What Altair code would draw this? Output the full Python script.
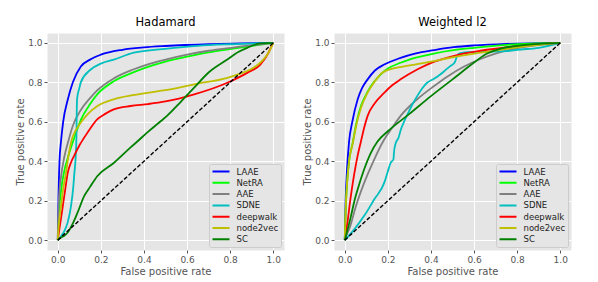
import altair as alt
import pandas as pd

methods = ["LAAE", "NetRA", "AAE", "SDNE", "deepwalk", "node2vec", "SC"]
colors = ["#0000FF", "#00FF00", "#808080", "#00BFBF", "#FF0000", "#BFBF00", "#008000"]
panels = ["Hadamard", "Weighted l2"]
ticks = [0.0, 0.2, 0.4, 0.6, 0.8, 1.0]

# ---- Hadamard ----
h_laae_x = [0, 0.003, 0.008, 0.015, 0.025, 0.046, 0.07, 0.107, 0.15, 0.2, 0.3, 0.4, 0.5, 0.7, 0.85, 1]
h_laae_y = [0, 0.2, 0.4, 0.5, 0.6, 0.71, 0.8, 0.88, 0.915, 0.94, 0.965, 0.977, 0.984, 0.993, 0.997, 1]
h_netra_x = [0, 0.005, 0.015, 0.03, 0.05, 0.077, 0.107, 0.15, 0.184, 0.26, 0.35, 0.415, 0.5, 0.6, 0.7, 0.82, 0.9, 1]
h_netra_y = [0, 0.13, 0.25, 0.35, 0.43, 0.52, 0.61, 0.69, 0.74, 0.805, 0.85, 0.877, 0.905, 0.93, 0.952, 0.972, 0.985, 1]
h_aae_x = [0, 0.005, 0.015, 0.03, 0.046, 0.07, 0.107, 0.15, 0.184, 0.26, 0.35, 0.415, 0.5, 0.6, 0.7, 0.82, 0.9, 1]
h_aae_y = [0, 0.2, 0.32, 0.42, 0.49, 0.58, 0.66, 0.72, 0.76, 0.82, 0.865, 0.89, 0.915, 0.94, 0.96, 0.977, 0.988, 1]
h_sdne_x = [0, 0.015, 0.031, 0.046, 0.061, 0.072, 0.077, 0.084, 0.087, 0.088, 0.09, 0.1, 0.107, 0.153, 0.2, 0.26, 0.353, 0.5, 0.65, 0.8, 1]
h_sdne_y = [0, 0.02, 0.047, 0.09, 0.17, 0.27, 0.34, 0.44, 0.55, 0.65, 0.72, 0.77, 0.8, 0.865, 0.895, 0.915, 0.95, 0.97, 0.985, 0.993, 1]
h_deep_x = [0, 0.008, 0.015, 0.023, 0.035, 0.046, 0.06, 0.077, 0.1, 0.123, 0.15, 0.184, 0.22, 0.26, 0.338, 0.42, 0.5, 0.633, 0.787, 0.879, 0.94, 0.978, 0.995, 1]
h_deep_y = [0, 0.06, 0.11, 0.17, 0.26, 0.34, 0.39, 0.43, 0.48, 0.52, 0.565, 0.613, 0.64, 0.663, 0.68, 0.69, 0.703, 0.739, 0.798, 0.848, 0.89, 0.95, 0.99, 1]
h_n2v_x = [0, 0.005, 0.015, 0.025, 0.038, 0.05, 0.065, 0.085, 0.107, 0.14, 0.184, 0.26, 0.35, 0.415, 0.5, 0.633, 0.787, 0.85, 0.894, 0.93, 0.955, 0.975, 0.99, 1]
h_n2v_y = [0, 0.08, 0.17, 0.26, 0.34, 0.43, 0.51, 0.56, 0.596, 0.64, 0.68, 0.714, 0.735, 0.747, 0.76, 0.79, 0.823, 0.845, 0.865, 0.89, 0.916, 0.945, 0.975, 1]
h_sc_x = [0, 0.015, 0.03, 0.046, 0.07, 0.092, 0.123, 0.15, 0.184, 0.261, 0.338, 0.369, 0.42, 0.479, 0.507, 0.57, 0.633, 0.7, 0.787, 0.84, 0.879, 0.94, 1]
h_sc_y = [0, 0.013, 0.022, 0.039, 0.085, 0.14, 0.224, 0.27, 0.325, 0.392, 0.47, 0.5, 0.55, 0.604, 0.63, 0.7, 0.773, 0.85, 0.916, 0.955, 0.975, 0.997, 1]

# ---- Weighted l2 ----
w_laae_x = [0, 0.004, 0.01, 0.02, 0.035, 0.06, 0.08, 0.106, 0.14, 0.183, 0.259, 0.33, 0.413, 0.505, 0.6, 0.75, 1]
w_laae_y = [0, 0.2, 0.35, 0.5, 0.6, 0.714, 0.77, 0.815, 0.86, 0.89, 0.924, 0.947, 0.963, 0.978, 0.987, 0.995, 1]
w_netra_x = [0, 0.004, 0.01, 0.02, 0.037, 0.055, 0.075, 0.1, 0.121, 0.15, 0.183, 0.259, 0.33, 0.413, 0.505, 0.6, 0.75, 1]
w_netra_y = [0, 0.15, 0.28, 0.4, 0.495, 0.6, 0.68, 0.74, 0.78, 0.82, 0.857, 0.899, 0.925, 0.946, 0.963, 0.975, 0.99, 1]
w_aae_x = [0, 0.01, 0.022, 0.052, 0.09, 0.137, 0.183, 0.22, 0.259, 0.336, 0.413, 0.477, 0.554, 0.63, 0.707, 0.78, 0.86, 1]
w_aae_y = [0, 0.03, 0.06, 0.173, 0.29, 0.41, 0.51, 0.57, 0.63, 0.714, 0.78, 0.83, 0.88, 0.918, 0.948, 0.968, 0.983, 1]
w_sdne_x = [0, 0.045, 0.09, 0.137, 0.183, 0.198, 0.213, 0.226, 0.228, 0.236, 0.25, 0.26, 0.275, 0.29, 0.31, 0.336, 0.36, 0.382, 0.41, 0.443, 0.46, 0.489, 0.51, 0.52, 0.53, 0.57, 0.65, 0.75, 0.8, 0.9, 1]
w_sdne_y = [0, 0.056, 0.123, 0.207, 0.29, 0.342, 0.392, 0.41, 0.44, 0.49, 0.52, 0.56, 0.6, 0.635, 0.68, 0.73, 0.77, 0.798, 0.815, 0.84, 0.855, 0.882, 0.9, 0.93, 0.945, 0.953, 0.955, 0.958, 0.965, 0.975, 1]
w_deep_x = [0, 0.007, 0.015, 0.022, 0.033, 0.045, 0.06, 0.075, 0.09, 0.106, 0.14, 0.183, 0.22, 0.259, 0.336, 0.413, 0.477, 0.55, 0.63, 0.8, 0.9, 1]
w_deep_y = [0, 0.05, 0.11, 0.173, 0.26, 0.342, 0.43, 0.5, 0.57, 0.63, 0.695, 0.747, 0.785, 0.815, 0.865, 0.904, 0.925, 0.945, 0.96, 0.983, 0.993, 1]
w_n2v_x = [0, 0.004, 0.01, 0.02, 0.037, 0.055, 0.075, 0.1, 0.121, 0.15, 0.17, 0.19, 0.213, 0.27, 0.336, 0.413, 0.477, 0.55, 0.63, 0.784, 0.9, 1]
w_n2v_y = [0, 0.15, 0.28, 0.4, 0.49, 0.59, 0.67, 0.735, 0.775, 0.82, 0.845, 0.858, 0.867, 0.88, 0.892, 0.907, 0.922, 0.937, 0.95, 0.975, 0.99, 1]
w_sc_x = [0, 0.01, 0.029, 0.045, 0.06, 0.09, 0.12, 0.152, 0.2, 0.3, 0.4, 0.5, 0.6, 0.65, 0.72, 0.8, 1]
w_sc_y = [0, 0.04, 0.123, 0.2, 0.258, 0.359, 0.44, 0.5, 0.552, 0.64, 0.73, 0.815, 0.9, 0.94, 0.97, 0.985, 1]

diag_x = [0, 1]
diag_y = [0, 1]

curves = {
    "Hadamard": [
        (h_laae_x, h_laae_y), (h_netra_x, h_netra_y), (h_aae_x, h_aae_y), (h_sdne_x, h_sdne_y),
        (h_deep_x, h_deep_y), (h_n2v_x, h_n2v_y), (h_sc_x, h_sc_y)],
    "Weighted l2": [
        (w_laae_x, w_laae_y), (w_netra_x, w_netra_y), (w_aae_x, w_aae_y), (w_sdne_x, w_sdne_y),
        (w_deep_x, w_deep_y), (w_n2v_x, w_n2v_y), (w_sc_x, w_sc_y)],
}

FONT = "DejaVu Sans"


def panel_chart(name):
    rows = []
    for m, (xs, ys) in zip(methods, curves[name]):
        for i, (x, y) in enumerate(zip(xs, ys)):
            rows.append({"method": m, "fpr": x, "tpr": y, "idx": i})
    df = pd.DataFrame(rows)
    diag = pd.DataFrame({"fpr": diag_x, "tpr": diag_y})

    xenc = alt.X("fpr:Q", title="False positive rate",
                 scale=alt.Scale(domain=[-0.05, 1.05], nice=False, zero=False),
                 axis=alt.Axis(values=ticks, format=".1f"))
    yenc = alt.Y("tpr:Q", title="True positive rate",
                 scale=alt.Scale(domain=[-0.05, 1.05], nice=False, zero=False),
                 axis=alt.Axis(values=ticks, format=".1f"))

    lines = alt.Chart(df).mark_line(strokeWidth=1.8, interpolate="monotone").encode(
        x=xenc, y=yenc,
        color=alt.Color("method:N", sort=methods,
                        scale=alt.Scale(domain=methods, range=colors),
                        legend=alt.Legend(title=None, orient="bottom-right")),
        order=alt.Order("idx:Q"),
    )
    dline = alt.Chart(diag).mark_line(color="black", strokeWidth=1.4, strokeDash=[4, 2]).encode(
        x=alt.X("fpr:Q"), y=alt.Y("tpr:Q"))
    return alt.layer(lines, dline).properties(
        width=237, height=217,
        title=alt.TitleParams(name, fontSize=11.5, font=FONT, fontWeight="normal", color="black", offset=5),
    )


chart = alt.hconcat(panel_chart("Hadamard"), panel_chart("Weighted l2"), spacing=17).resolve_scale(
    color="independent"
).properties(
    padding={"left": 7, "top": 8, "right": 5, "bottom": 2}
).configure_view(
    fill="#E5E5E5", stroke="transparent"
).configure_axis(
    domain=False, gridColor="white", gridWidth=1,
    tickColor="#555555", tickSize=3, labelPadding=2,
    labelFont=FONT, labelFontSize=9, labelColor="#555555",
    titleFont=FONT, titleFontSize=10, titleColor="#555555", titleFontWeight="normal",
    titlePadding=2,
).configure_legend(
    symbolType="stroke", symbolSize=289, symbolStrokeWidth=2,
    labelFont=FONT, labelFontSize=8.5, labelColor="#222222",
    padding=2.5, offset=3.5, labelOffset=6, rowPadding=1.3, clipHeight=10,
    fillColor="#E5E5E5", strokeColor="#CCCCCC", cornerRadius=2,
)

chart.save("out.html", embed_options={"renderer": "svg", "actions": False})
